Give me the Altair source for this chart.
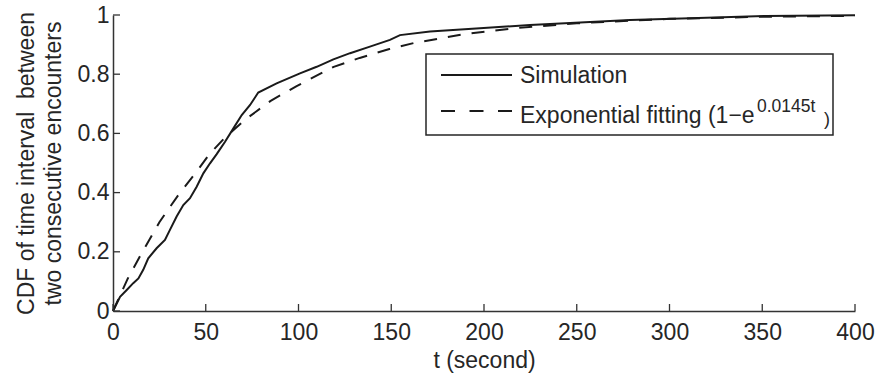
import altair as alt
import pandas as pd

# Simulated CDF of the interval between two consecutive encounters
sim_t = [0, 3.8, 7.4, 10.9, 13.7, 16.3, 19.0, 23.5, 28.0, 30.7, 34.3, 37.9, 41.5,
         45.1, 48.7, 52.3, 55.9, 60.4, 64.9, 69.4, 73.9, 78.3, 88.2, 100.8, 109.8,
         118.8, 127.8, 138.5, 149.3, 154.7, 170.9, 197.8, 224.8, 251.8, 278.7,
         311.0, 352.0, 400.0]
sim_cdf = [0, 0.048, 0.071, 0.094, 0.110, 0.139, 0.178, 0.212, 0.240, 0.274, 0.319,
           0.358, 0.381, 0.420, 0.465, 0.499, 0.530, 0.572, 0.617, 0.662, 0.696,
           0.738, 0.769, 0.803, 0.825, 0.850, 0.871, 0.893, 0.916, 0.932, 0.944,
           0.955, 0.966, 0.975, 0.983, 0.989, 0.997, 0.999]

# Exponential fit of the same distribution
fit_t = [0, 8, 15, 25, 35, 45, 52, 61, 72, 85, 99, 119, 133, 149, 162, 189, 216,
         250, 300, 350, 400]
fit_cdf = [0, 0.11, 0.19, 0.30, 0.39, 0.47, 0.53, 0.59, 0.65, 0.71, 0.76, 0.825,
           0.855, 0.885, 0.905, 0.935, 0.955, 0.972, 0.987, 0.994, 0.997]

x_ticks = [0, 50, 100, 150, 200, 250, 300, 350, 400]
y_ticks = [0, 0.2, 0.4, 0.6, 0.8, 1]

series_names = ["Simulation", "Exponential fitting (1\u2212e"]
fit_exponent = "0.0145t"

FONT = "Liberation Sans"
INK = "#1a1a1a"
TEXT = "#262626"
W, H = 742, 296

sim_df = pd.DataFrame({"t": sim_t, "cdf": sim_cdf})
fit_df = pd.DataFrame({"t": fit_t, "cdf": fit_cdf})
xt_df = pd.DataFrame({"t": x_ticks})
yt_df = pd.DataFrame({"cdf": y_ticks})
one = pd.DataFrame({"k": [0]})

x_scale = alt.Scale(domain=[0, 400], nice=False, zero=False)
y_scale = alt.Scale(domain=[0, 1], nice=False, zero=False)

x_axis = alt.Axis(values=x_ticks, title="t (second)", labelPadding=10, titlePadding=5,
                  labelFontSize=23)
y_axis = alt.Axis(values=y_ticks,
                  title=["CDF of time interval \u00a0between", "two consecutive encounters"],
                  labelPadding=4, titlePadding=12, titleLineHeight=27, format="~g",
                  labelFontSize=23)

sim_line = alt.Chart(sim_df).mark_line(color=INK, strokeWidth=2).encode(
    x=alt.X("t:Q", scale=x_scale, axis=x_axis),
    y=alt.Y("cdf:Q", scale=y_scale, axis=y_axis),
)
fit_line = alt.Chart(fit_df).mark_line(color=INK, strokeWidth=2, strokeDash=[13, 11]).encode(
    x=alt.X("t:Q", scale=x_scale),
    y=alt.Y("cdf:Q", scale=y_scale),
)

# inward tick marks
x_tick_marks = alt.Chart(xt_df).mark_rule(color="#333333", strokeWidth=1.3).encode(
    x=alt.X("t:Q", scale=x_scale),
    y=alt.value(H), y2=alt.value(H - 7),
)
y_tick_marks = alt.Chart(yt_df).mark_rule(color="#333333", strokeWidth=1.3).encode(
    y=alt.Y("cdf:Q", scale=y_scale),
    x=alt.value(0), x2=alt.value(7),
)

# legend box
box = alt.Chart(one).mark_rect(fill="white", stroke=TEXT, strokeWidth=1.5).encode(
    x=alt.value(313), x2=alt.value(720), y=alt.value(39), y2=alt.value(120),
)
key_solid = alt.Chart(one).mark_rule(color=INK, strokeWidth=2).encode(
    x=alt.value(328), x2=alt.value(399), y=alt.value(60),
)
key_dash = alt.Chart(one).mark_rule(color=INK, strokeWidth=2, strokeDash=[14, 14.5]).encode(
    x=alt.value(328), x2=alt.value(399), y=alt.value(96),
)
label_sim = alt.Chart(one).mark_text(align="left", baseline="alphabetic", font=FONT,
                                     fontSize=23, color=TEXT,
                                     text=series_names[0]).encode(
    x=alt.value(407), y=alt.value(68),
)
label_fit = alt.Chart(one).mark_text(align="left", baseline="alphabetic", font=FONT,
                                     fontSize=23, color=TEXT,
                                     text=series_names[1]).encode(
    x=alt.value(407), y=alt.value(108),
)
label_exp = alt.Chart(one).mark_text(align="left", baseline="alphabetic", font=FONT,
                                     fontSize=17.5, color=TEXT,
                                     text=fit_exponent).encode(
    x=alt.value(644), y=alt.value(97),
)
label_close = alt.Chart(one).mark_text(align="left", baseline="alphabetic", font=FONT,
                                       fontSize=18, color=TEXT, text=")").encode(
    x=alt.value(711), y=alt.value(110),
)

chart = alt.layer(
    sim_line, fit_line, x_tick_marks, y_tick_marks,
    box, key_solid, key_dash, label_sim, label_fit, label_exp, label_close,
).properties(
    width=W, height=H,
    autosize=alt.AutoSizeParams(type="none"),
    padding={"left": 113, "top": 15, "right": 22, "bottom": 63},
    background="white",
).configure_view(
    stroke=None
).configure_axis(
    grid=False, tickSize=0, labelFontSize=23, titleFontSize=23,
    labelFont=FONT, titleFont=FONT, titleFontWeight="normal",
    labelColor=TEXT, titleColor=TEXT, domainColor="#333333", domainWidth=1.5,
    labelFlush=False, titleLimit=400,
)

chart.save("out.html", embed_options={"renderer": "svg", "actions": False})
